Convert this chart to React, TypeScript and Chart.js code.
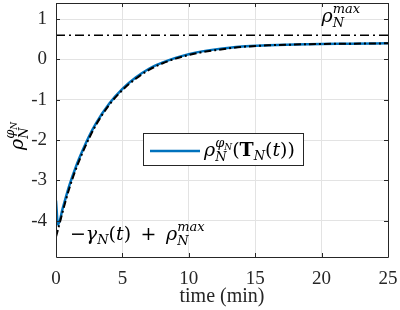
import React, { useEffect, useRef } from "react";
import { Chart, registerables } from "chart.js";
Chart.register(...registerables);

const timeMin = [0, 0.15, 0.5, 1, 1.5, 2, 2.5, 3, 4, 5, 6, 7, 8, 9, 10, 11, 12, 14, 16, 18, 20, 22, 25];
const rhoPhi = [-3.5, -4.1, -3.7, -3.13, -2.66, -2.26, -1.9, -1.59, -1.1, -0.73, -0.45, -0.23, -0.08, 0.04, 0.13, 0.2, 0.25, 0.32, 0.35, 0.37, 0.385, 0.39, 0.4];
const gammaBound = [-4.4, -4.22, -3.78, -3.2, -2.72, -2.31, -1.95, -1.63, -1.13, -0.76, -0.48, -0.26, -0.1, 0.02, 0.11, 0.18, 0.23, 0.31, 0.35, 0.37, 0.385, 0.39, 0.4];
const rhoMax = 0.6;
const xTicks = [0, 5, 10, 15, 20, 25];
const yTicks = [-4, -3, -2, -1, 0, 1];
const xRange = [0, 25];
const yRange = [-4.9, 1.4];

const SERIF = "'Liberation Serif', 'Times New Roman', serif";
const MATH = "'DejaVu Serif', serif";
const R20 = `20px ${SERIF}`;
const MR = `19px ${MATH}`;
const MI = `italic 19px ${MATH}`;
const MB = `bold 19px ${MATH}`;
const MS = `italic 13px ${MATH}`;
const MSS = `italic 9px ${MATH}`;
const AXIS = "#262626";
const BLUE = "#0072BD";

type Part = { t: string; f: string; dy?: number } | { stack: Part[][] };

function drawParts(ctx: CanvasRenderingContext2D, x: number, y: number, parts: Part[]): number {
  let cx = x;
  for (const p of parts) {
    if ("stack" in p) {
      let w = 0;
      for (const seq of p.stack) w = Math.max(w, drawParts(ctx, cx, y, seq));
      cx += w;
    } else {
      ctx.font = p.f;
      ctx.fillText(p.t, cx, y + (p.dy || 0));
      cx += ctx.measureText(p.t).width;
    }
  }
  return cx - x;
}

const rhoPhiN: Part[] = [
  { t: "ρ", f: MI },
  { stack: [[{ t: "φ", f: MS, dy: -9 }, { t: "N", f: MSS, dy: -6 }], [{ t: "N", f: MS, dy: 5 }]] },
];
const rhoMaxN: Part[] = [
  { t: "ρ", f: MI },
  { stack: [[{ t: "max", f: MS, dy: -9 }], [{ t: "N", f: MS, dy: 5 }]] },
];
const legendText: Part[] = [
  ...rhoPhiN,
  { t: "(", f: MR },
  { t: "T", f: MB },
  { t: "N", f: MS, dy: 4 },
  { t: "(", f: MR },
  { t: "t", f: MI },
  { t: "))", f: MR },
];
const boundText: Part[] = [
  { t: "−", f: MR },
  { t: "γ", f: MI },
  { t: "N", f: MS, dy: 4 },
  { t: "(", f: MR },
  { t: "t", f: MI },
  { t: ")\u2002+\u2002", f: MR },
  ...rhoMaxN,
];

const decor = {
  id: "decor",
  afterDraw(chart: any) {
    const ctx: CanvasRenderingContext2D = chart.ctx;
    const { left, right, top, bottom } = chart.chartArea;
    const xs = chart.scales.x;
    const ys = chart.scales.y;
    ctx.save();
    ctx.strokeStyle = AXIS;
    ctx.lineWidth = 1;
    ctx.beginPath();
    ctx.rect(Math.round(left) + 0.5, Math.round(top) + 0.5, Math.round(right - left), Math.round(bottom - top));
    const tl = 4;
    for (const v of xTicks) {
      const px = Math.round(xs.getPixelForValue(v)) + 0.5;
      ctx.moveTo(px, bottom); ctx.lineTo(px, bottom - tl);
      ctx.moveTo(px, top); ctx.lineTo(px, top + tl);
    }
    for (const v of yTicks) {
      const py = Math.round(ys.getPixelForValue(v)) + 0.5;
      ctx.moveTo(left, py); ctx.lineTo(left + tl, py);
      ctx.moveTo(right, py); ctx.lineTo(right - tl, py);
    }
    ctx.stroke();

    ctx.fillStyle = "#000";
    ctx.textBaseline = "alphabetic";
    ctx.textAlign = "left";
    drawParts(ctx, xs.getPixelForValue(20), ys.getPixelForValue(rhoMax) - 13, rhoMaxN);
    drawParts(ctx, xs.getPixelForValue(1.05), ys.getPixelForValue(-4.47), boundText);

    const lx = 143.5, ly = 133.5, lw = 160, lh = 32;
    ctx.fillStyle = "#fff";
    ctx.fillRect(lx, ly, lw, lh);
    ctx.strokeStyle = AXIS;
    ctx.lineWidth = 1;
    ctx.strokeRect(lx, ly, lw, lh);
    ctx.strokeStyle = BLUE;
    ctx.lineWidth = 2.5;
    ctx.beginPath();
    ctx.moveTo(150, 151); ctx.lineTo(200, 151);
    ctx.stroke();
    ctx.fillStyle = "#000";
    drawParts(ctx, 204, 156, legendText);

    ctx.font = R20;
    ctx.fillStyle = AXIS;
    ctx.textAlign = "center";
    ctx.fillText("time (min)", (left + right) / 2, 302);

    ctx.textAlign = "left";
    ctx.fillStyle = "#000";
    ctx.translate(23, 150);
    ctx.rotate(-Math.PI / 2);
    drawParts(ctx, 0, 0, rhoPhiN);
    ctx.restore();
  },
};

export default function App() {
  const ref = useRef<HTMLCanvasElement>(null);
  useEffect(() => {
    if (!ref.current) return;
    const chart = new Chart(ref.current, {
      type: "line",
      data: {
        datasets: [
          {
            data: timeMin.map((t, i) => ({ x: t, y: gammaBound[i] })),
            borderColor: "#000",
            borderWidth: 2,
            borderDash: [7, 3, 2, 3],
            pointRadius: 0,
            cubicInterpolationMode: "monotone",
            fill: false,
            order: 0,
          },
          {
            data: timeMin.map((t, i) => ({ x: t, y: rhoPhi[i] })),
            borderColor: BLUE,
            borderWidth: 2.5,
            pointRadius: 0,
            cubicInterpolationMode: "monotone",
            fill: false,
            order: 1,
          },
          {
            data: [{ x: xRange[0], y: rhoMax }, { x: xRange[1], y: rhoMax }],
            borderColor: "#000",
            borderWidth: 1.5,
            borderDash: [9, 4, 2, 4],
            pointRadius: 0,
            fill: false,
            order: 2,
          },
        ],
      },
      options: {
        animation: false,
        responsive: false,
        layout: { padding: { top: 3, right: 12, left: 0, bottom: 0 } },
        plugins: { legend: { display: false }, tooltip: { enabled: false } },
        scales: {
          x: {
            type: "linear",
            min: xRange[0],
            max: xRange[1],
            afterBuildTicks: (s: any) => { s.ticks = xTicks.map((v) => ({ value: v })); },
            afterFit: (s: any) => { s.height = 53; s.paddingLeft = 0; s.paddingRight = 0; },
            grid: { color: "#e3e3e3", drawTicks: false },
            border: { display: false },
            ticks: { color: AXIS, font: { family: SERIF, size: 19 }, padding: 11, maxRotation: 0, callback: (v: any) => String(v) },
          },
          y: {
            type: "linear",
            min: yRange[0],
            max: yRange[1],
            afterBuildTicks: (s: any) => { s.ticks = yTicks.map((v) => ({ value: v })); },
            afterFit: (s: any) => { s.width = 56; s.paddingTop = 0; s.paddingBottom = 0; },
            grid: { color: "#e3e3e3", drawTicks: false },
            border: { display: false },
            ticks: { color: AXIS, font: { family: SERIF, size: 19 }, padding: 9, callback: (v: any) => String(v).replace("−", "-") },
          },
        },
      },
      plugins: [decor],
    } as any);
    return () => chart.destroy();
  }, []);
  return (
    <div style={{ position: "fixed", left: 0, top: 0, width: 400, height: 310, background: "#fff" }}>
      <canvas ref={ref} width={400} height={310} style={{ width: 400, height: 310 }} />
    </div>
  );
}
